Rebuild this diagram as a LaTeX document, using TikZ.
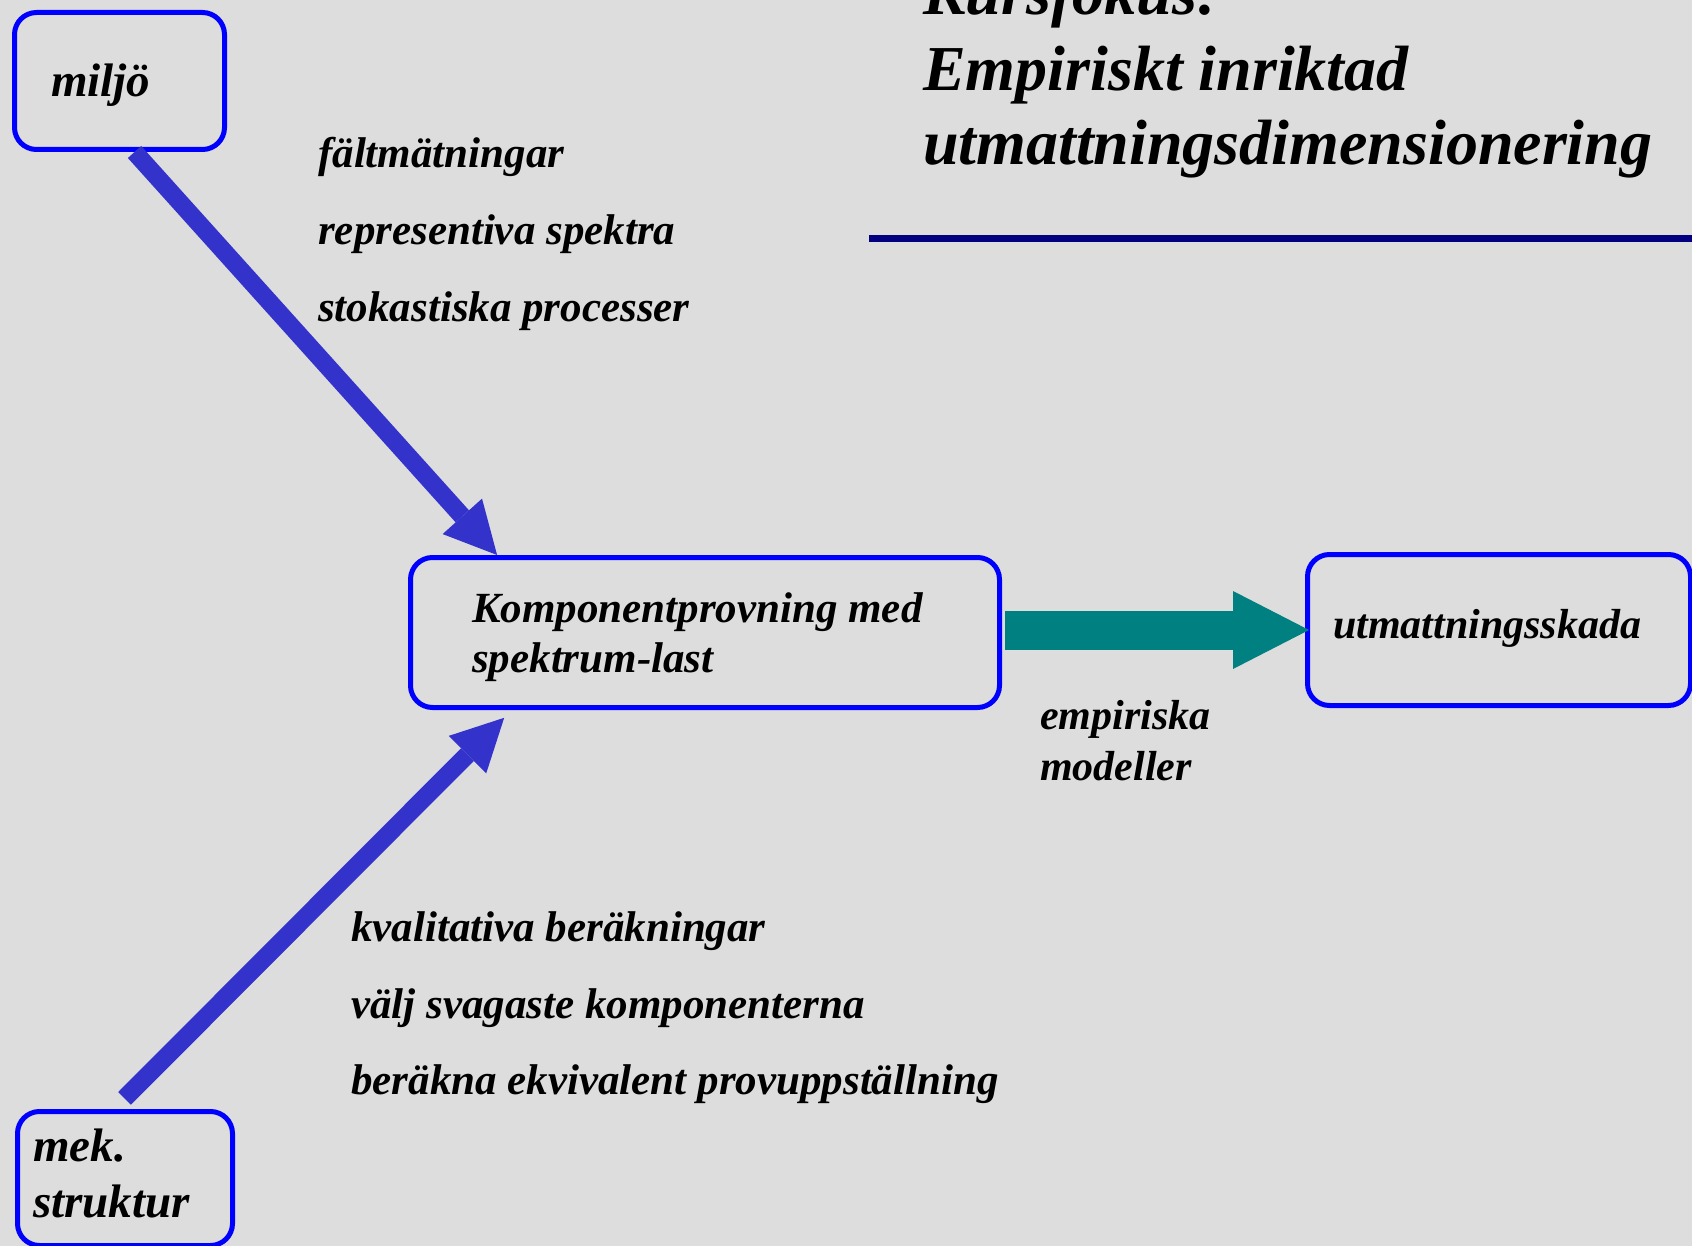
\documentclass[tikz,border=0pt]{standalone}
\usepackage{fontspec}
\setmainfont{Liberation Serif}
\usepackage{tikz}
\usetikzlibrary{arrows.meta, positioning, calc}
\definecolor{slide}{RGB}{221,221,221}
\definecolor{frameblue}{RGB}{0,0,255}
\definecolor{arrowblue}{RGB}{51,51,204}
\definecolor{tealarrow}{RGB}{0,128,128}
\definecolor{rulenavy}{RGB}{0,0,128}
\tikzset{
    block/.style={rectangle, draw=frameblue, line width=5pt, rounded corners=22pt, inner sep=0pt, anchor=north west},
    txt/.style={inner sep=0pt, anchor=base west, font=\bfseries\itshape\fontsize{#1}{#1}\selectfont},
    txt/.default=43,
    feedarrow/.style={draw=arrowblue, line width=18pt, -{Triangle[length=52pt, width=53pt, line width=0pt]}},
    resultarrow/.style={draw=tealarrow, line width=39pt, -{Triangle[length=76pt, width=78pt, line width=0pt]}}
}

\begin{document}
\begin{tikzpicture}[x=1pt, y=-1pt]
            \useasboundingbox (0,0) rectangle (1692,1246);
            \fill[slide] (0,0) rectangle (1692,1246);

            % title
            \node[txt=64] (kurs) at (923,15) {Kursfokus:};
            \node[txt=64] (empiri) at (923,91) {Empiriskt inriktad};
            \node[txt=64] (dimens) at (923,165) {utmattningsdimensionering};
            \draw[rulenavy, line width=7pt] (869,239) -- (1692,239);

            % boxes
            \node[block, minimum width=210pt, minimum height=137pt] (milj) at (12,10) {};
            \node[block, minimum width=589pt, minimum height=150pt] (komp) at (408,555) {};
            \node[block, minimum width=383pt, minimum height=151pt] (utm) at (1305,552) {};
            \node[block, minimum width=215pt, minimum height=134pt] (mek) at (15,1109) {};

            \node[txt=47] (miljtext) at (51,97) {miljö};
            \node[txt] (komptext) at (472,622) {Komponentprovning med};
            \node[txt] (komptext2) at (472,672) {spektrum-last};
            \node[txt=42] (utmtext) at (1333,638) {utmattningsskada};
            \node[txt=47] (mektext) at (33,1161) {mek.};
            \node[txt=47] (mektext2) at (33,1217) {struktur};

            % arrows
            \draw[feedarrow] ($(milj.south west)!0.57!(milj.south east)$) -- ($(komp.north west)!0.15!(komp.north east)$);
            \draw[feedarrow, shorten <=15pt, shorten >=11pt] ($(mek.north west)!0.45!(mek.north east)$) -- ($(komp.south west)!0.175!(komp.south east)$);
            \draw[resultarrow, shorten <=3pt, shorten >=-4pt] (komp.east |- utm.west) -- (utm.west);

            % labels
            \node[txt] (falt) at (318,168) {fältmätningar};
            \node[txt] (spektra) at (318,245) {representiva spektra};
            \node[txt] (stokast) at (318,322) {stokastiska processer};
            \node[txt] (kvalit) at (351,941) {kvalitativa beräkningar};
            \node[txt] (svag) at (351,1018) {välj svagaste komponenterna};
            \node[txt] (ekviv) at (351,1094) {beräkna ekvivalent provuppställning};
            \node[txt=42] (empmod) at (1040,729) {empiriska};
            \node[txt=42] (empmod2) at (1040,780) {modeller};
        \end{tikzpicture}
\end{document}
